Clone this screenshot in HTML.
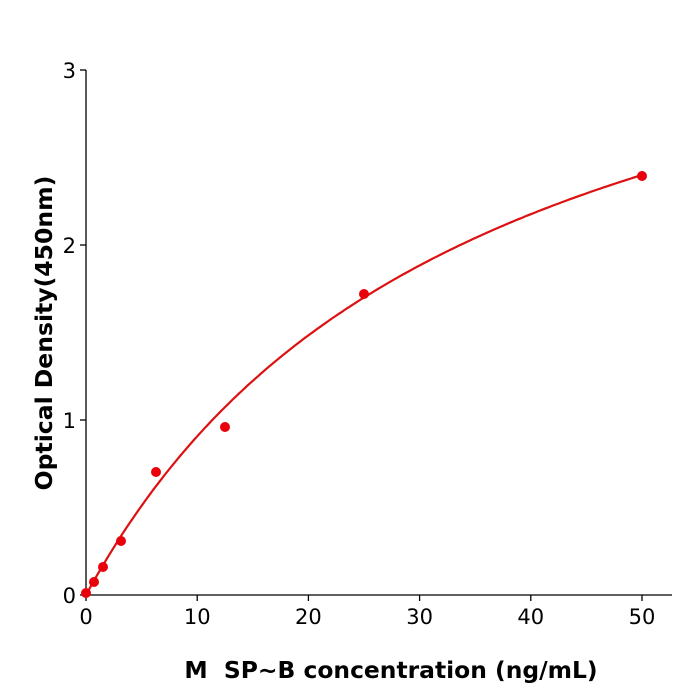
<!DOCTYPE html>
<html><head><meta charset="utf-8"><style>
body{margin:0;background:#fff}
svg{display:block}
text{font-family:"DejaVu Sans","Liberation Sans",sans-serif;fill:#000;white-space:pre}
</style></head><body>
<svg id="s" width="700" height="700" viewBox="0 0 700 700">
<g stroke="#000" stroke-width="1.3">
<line x1="86" y1="70" x2="86" y2="596"/>
<line x1="85" y1="595" x2="672" y2="595"/>
<line x1="80" y1="70" x2="86" y2="70"/>
<line x1="80" y1="245" x2="86" y2="245"/>
<line x1="80" y1="420" x2="86" y2="420"/>
<line x1="80" y1="595" x2="86" y2="595"/>
<line x1="86" y1="595" x2="86" y2="601"/>
<line x1="197.2" y1="595" x2="197.2" y2="601"/>
<line x1="308.4" y1="595" x2="308.4" y2="601"/>
<line x1="419.6" y1="595" x2="419.6" y2="601"/>
<line x1="530.8" y1="595" x2="530.8" y2="601"/>
<line x1="642" y1="595" x2="642" y2="601"/>
</g>
<g font-size="21" text-anchor="end">
<text x="76" y="78">3</text><text x="76" y="253">2</text><text x="76" y="428">1</text><text x="76" y="603">0</text>
</g>
<g font-size="21" text-anchor="middle">
<text x="86" y="624">0</text><text x="197.2" y="624">10</text><text x="308.4" y="624">20</text><text x="419.6" y="624">30</text><text x="530.8" y="624">40</text><text x="642" y="624">50</text>
</g>
<text x="391" y="678" font-size="23.4" font-weight="bold" text-anchor="middle" xml:space="preserve">M  SP~B concentration (ng/mL)</text>
<text transform="translate(52,333) rotate(-90)" font-size="23.5" font-weight="bold" text-anchor="middle">Optical Density(450nm)</text>
<path id="c" fill="none" stroke="#dd1111" stroke-width="2.2"/>
<g fill="#e8000b">
<circle cx="86" cy="593" r="5"/><circle cx="94" cy="582" r="5"/><circle cx="103" cy="567" r="5"/><circle cx="121" cy="541" r="5"/><circle cx="156" cy="472" r="5"/><circle cx="225" cy="427" r="5"/><circle cx="364" cy="294" r="5"/><circle cx="642" cy="176" r="5"/>
</g>
</svg>
<script>
var d="";for(var i=0;i<=200;i++){var x=50*i/200,y=4.08*x/(35+x);d+=(i?"L":"M")+(86+x*11.12).toFixed(1)+","+(595-y*175).toFixed(1);}
document.getElementById("c").setAttribute("d",d);
</script>
</body></html>
